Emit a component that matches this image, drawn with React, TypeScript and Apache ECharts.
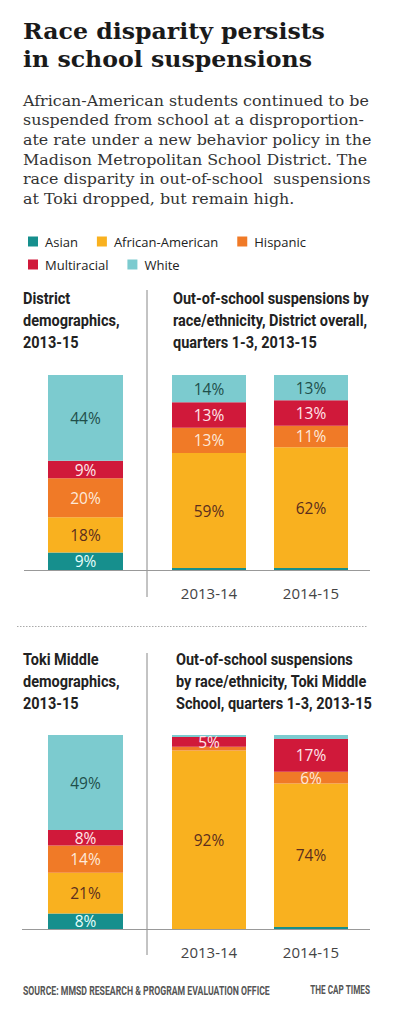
import React, { useEffect, useRef } from "react";
import * as echarts from "echarts";

const races = ["Asian", "African-American", "Hispanic", "Multiracial", "White"];
const years = ["2013-14", "2014-15"];
const demoCategory = ["2013-15"];
// values per race, in the order of `races`
const districtDemo = [9, 18, 20, 9, 44];
const districtSusp1314 = [1, 59, 13, 13, 14];
const districtSusp1415 = [1, 62, 11, 13, 13];
const tokiDemo = [8, 21, 14, 8, 49];
const tokiSusp1314 = [0, 92, 2, 5, 1];
const tokiSusp1415 = [1, 74, 6, 17, 2];

const titleLines = ["Race disparity persists", "in school suspensions"];
const introLines = [
  "African-American students continued to be",
  "suspended from school at a disproportion-",
  "ate rate under a new behavior policy in the",
  "Madison Metropolitan School District. The",
  "race disparity in out-of-school  suspensions",
  "at Toki dropped, but remain high.",
];
const panelTitles = [
  ["District", "demographics,", "2013-15"],
  ["Out-of-school suspensions by", "race/ethnicity, District overall,", "quarters 1-3, 2013-15"],
  ["Toki Middle", "demographics,", "2013-15"],
  ["Out-of-school suspensions", "by race/ethnicity, Toki Middle", "School, quarters 1-3, 2013-15"],
];
const sourceText = "SOURCE: MMSD RESEARCH & PROGRAM EVALUATION OFFICE";
const creditText = "THE CAP TIMES";

const colors = ["#168f8d", "#f9b11f", "#f07a27", "#d0193a", "#7ccbcf"];
const labelColors = ["#e6fffd", "#5b2e1e", "#fde9da", "#ffe6ea", "#1f4f4a"];

const SANS = "'Open Sans', 'Noto Sans', sans-serif";
const COND = "Roboto, 'Noto Sans', sans-serif";
const SERIF = "'DejaVu Serif', serif";

function measure(text: string, font: string): number {
  const c = document.createElement("canvas");
  const ctx = c.getContext("2d")!;
  ctx.font = font;
  return ctx.measureText(text).width || 1;
}

export default function App() {
  const ref = useRef<HTMLDivElement>(null);
  useEffect(() => {
    document.body.style.margin = "0";
    const chart = echarts.init(ref.current!, null, { renderer: "svg" });

    const panels = [
      { grid: 0, cats: demoCategory, data: [districtDemo], barWidth: 75 },
      { grid: 1, cats: years, data: [districtSusp1314, districtSusp1415], barWidth: 74 },
      { grid: 2, cats: demoCategory, data: [tokiDemo], barWidth: 75 },
      { grid: 3, cats: years, data: [tokiSusp1314, tokiSusp1415], barWidth: 74 },
    ];

    const series: any[] = [];
    panels.forEach((p) => {
      races.forEach((race, ri) => {
        series.push({
          type: "bar",
          name: race,
          xAxisIndex: p.grid,
          yAxisIndex: p.grid,
          stack: "s" + p.grid,
          barWidth: p.barWidth,
          itemStyle: { color: colors[ri] },
          data: p.data.map((col) => ({
            value: col[ri],
            label: { show: col[ri] >= 4 },
          })),
          label: {
            show: true,
            position: "inside",
            formatter: "{c}%",
            color: labelColors[ri],
            fontSize: 15.5,
            fontFamily: SANS,
          },
        });
      });
    });

    const graphic: any[] = [];

    // Title
    const titleFontSize = 23;
    const titleFont = `bold ${titleFontSize}px 'DejaVu Serif'`;
    const titleScale = 302 / measure(titleLines[0], titleFont);
    titleLines.forEach((t, i) => {
      graphic.push({
        type: "text",
        x: 23,
        y: 31 + i * 28,
        scaleX: titleScale,
        style: {
          text: t,
          fontFamily: SERIF,
          fontWeight: "bold",
          fontSize: titleFontSize,
          fill: "#1a1a1a",
          verticalAlign: "middle",
        },
      });
    });

    // Intro
    const introSize = 14.5;
    const introScale = 346 / measure(introLines[0], `${introSize}px 'DejaVu Serif'`);
    introLines.forEach((t, i) => {
      graphic.push({
        type: "text",
        x: 23,
        y: 101 + i * 19.6,
        scaleX: introScale,
        style: {
          text: t,
          fontFamily: SERIF,
          fontSize: introSize,
          fill: "#333",
          verticalAlign: "middle",
        },
      });
    });

    // Panel titles
    const ptSize = 16.5;
    const ptScale = 196 / measure(panelTitles[1][0], `bold ${ptSize}px Roboto`);
    const ptPos = [
      [23, 299],
      [173, 299],
      [23, 660],
      [176, 660],
    ];
    panelTitles.forEach((lines, pi) => {
      lines.forEach((t, i) => {
        graphic.push({
          type: "text",
          x: ptPos[pi][0],
          y: ptPos[pi][1] + i * 22,
          scaleX: ptScale,
          style: {
            text: t,
            fontFamily: COND,
            fontWeight: "bold",
            fontSize: ptSize,
            fill: "#222",
            verticalAlign: "middle",
          },
        });
      });
    });

    // dividers and baselines
    const lineDefs: any[] = [
      [147, 290, 147, 597, "#888"],
      [147, 653, 147, 955, "#888"],
      [24, 570.5, 370, 570.5, "#999"],
      [22, 929.5, 370, 929.5, "#999"],
    ];
    lineDefs.forEach(([x1, y1, x2, y2, c]) => {
      graphic.push({
        type: "line",
        shape: { x1, y1, x2, y2 },
        style: { stroke: c, lineWidth: 1 },
        z: 10,
      });
    });
    graphic.push({
      type: "line",
      shape: { x1: 17, y1: 626.5, x2: 368, y2: 626.5 },
      style: { stroke: "#aaa", lineWidth: 1, lineDash: [1.5, 1.5] },
    });

    // Footer
    const footSize = 13.5;
    const footScale = 247 / measure(sourceText, `bold ${footSize}px Roboto`);
    graphic.push({
      type: "text",
      x: 23,
      y: 990,
      scaleX: footScale,
      style: {
        text: sourceText,
        fontFamily: COND,
        fontWeight: "bold",
        fontSize: footSize,
        fill: "#555",
        verticalAlign: "middle",
      },
    });
    graphic.push({
      type: "text",
      x: 370,
      y: 990,
      scaleX: 60 / measure(creditText, `bold ${footSize}px Roboto`),
      style: {
        text: creditText,
        fontFamily: COND,
        fontWeight: "bold",
        fontSize: footSize,
        fill: "#555",
        verticalAlign: "middle",
        align: "right",
      },
    });

    const legendCommon = {
      orient: "horizontal",
      icon: "rect",
      itemWidth: 10,
      itemHeight: 10,
      itemGap: 19,
      textStyle: { fontFamily: SANS, fontSize: 13, color: "#222", padding: [0, 0, 0, 2] },
      selectedMode: false,
    };

    chart.setOption({
      animation: false,
      backgroundColor: "#fff",
      color: colors,
      legend: [
        { ...legendCommon, left: 23, top: 230, data: races.slice(0, 3) },
        { ...legendCommon, left: 23, top: 253, data: races.slice(3) },
      ],
      grid: [
        { left: 23, width: 125, top: 375, height: 195 },
        { left: 158, width: 204, top: 375, height: 195 },
        { left: 23, width: 125, top: 735, height: 194 },
        { left: 158, width: 204, top: 735, height: 194 },
      ],
      xAxis: panels.map((p) => ({
        type: "category",
        gridIndex: p.grid,
        data: p.cats,
        axisLine: { show: false },
        axisTick: { show: false },
        axisLabel: {
          show: p.cats.length > 1,
          fontFamily: SANS,
          fontSize: 15,
          color: "#444",
          margin: 15,
        },
      })),
      yAxis: panels.map((p) => ({
        type: "value",
        gridIndex: p.grid,
        min: 0,
        max: 100,
        show: false,
      })),
      series,
      graphic,
    });
    return () => chart.dispose();
  }, []);
  return <div ref={ref} style={{ width: 395, height: 1015 }} />;
}
